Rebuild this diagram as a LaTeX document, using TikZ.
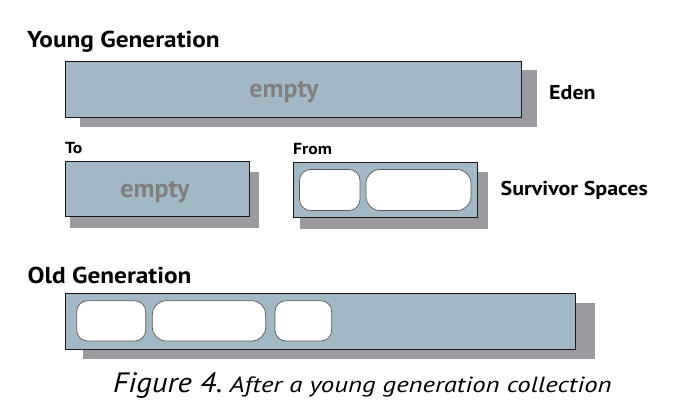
\documentclass[tikz,border=0pt]{standalone}
\usepackage{fontspec}
\setmainfont{PT Sans}
\newfontfamily\widesans[FakeStretch=1.1]{PT Sans}
\newfontfamily\capsans[FakeStretch=1.22]{PT Sans}
\definecolor{boxfill}{HTML}{A2B8C4}
\definecolor{shadowc}{HTML}{9B9B9F}
\definecolor{emptyc}{HTML}{7F7F7F}
\tikzset{
  space/.style={draw=black!90, line width=1pt, fill=boxfill},
  shade/.style={fill=shadowc, draw=none},
  obj/.style={draw=black!65, line width=0.7pt, fill=white, rounded corners=11pt},
  head/.style={font=\widesans\bfseries\fontsize{23}{27}\selectfont, anchor=base west, inner sep=0pt},
  lab/.style={font=\widesans\bfseries\fontsize{20}{24}\selectfont, anchor=base west, inner sep=0pt},
  small/.style={font=\widesans\bfseries\fontsize{16}{19}\selectfont, anchor=base west, inner sep=0pt},
  emptytxt/.style={font=\bfseries\fontsize{26}{30}\selectfont, text=emptyc, anchor=base, inner sep=0pt}
}
\begin{document}
\begin{tikzpicture}[x=1pt,y=-1pt]
\useasboundingbox (0,0) rectangle (683,413);
% Young generation
\node[head] (yg) at (27,47.3) {Young Generation};
% Eden
\fill[shade] (80,70) rectangle (536.5,126.7);
\draw[space] (65.5,61.5) rectangle (521.5,117.3);
\node[emptytxt] (e1) at (284,97.5) {empty};
\node[lab] (eden) at (549,99) {Eden};
% To
\node[small] (to) at (65,153) {To};
\fill[shade] (70,172) rectangle (259,228);
\draw[space] (65.7,161.7) rectangle (249,216.7);
\node[emptytxt] (e2) at (155,197.3) {empty};
% From
\node[small] (from) at (293,154) {From};
\fill[shade] (300,172) rectangle (488,229);
\draw[space] (293,162) rectangle (477,217);
\draw[obj] (299.5,169.5) rectangle (360,210.5);
\draw[obj, rounded corners=14pt] (366,169.5) rectangle (471,210.5);
\node[lab] (surv) at (500.5,195) {Survivor Spaces};
% Old generation
\node[head] (og) at (27.5,283) {Old Generation};
\fill[shade] (83,303.3) rectangle (595,359);
\draw[space] (65.7,293.3) rectangle (575.5,349);
\draw[obj] (76.7,300.7) rectangle (145.7,341);
\draw[obj, rounded corners=14pt] (152.3,300.7) rectangle (265.7,341);
\draw[obj] (275,300.7) rectangle (331.7,341);
% caption
\node[anchor=base west, inner sep=0pt] (cap) at (113,392) {\itshape{\widesans\fontsize{28}{32}\selectfont Figure 4.}\hspace{7pt}{\capsans\fontsize{22}{26}\selectfont After a young generation collection}};
\end{tikzpicture}
\end{document}
